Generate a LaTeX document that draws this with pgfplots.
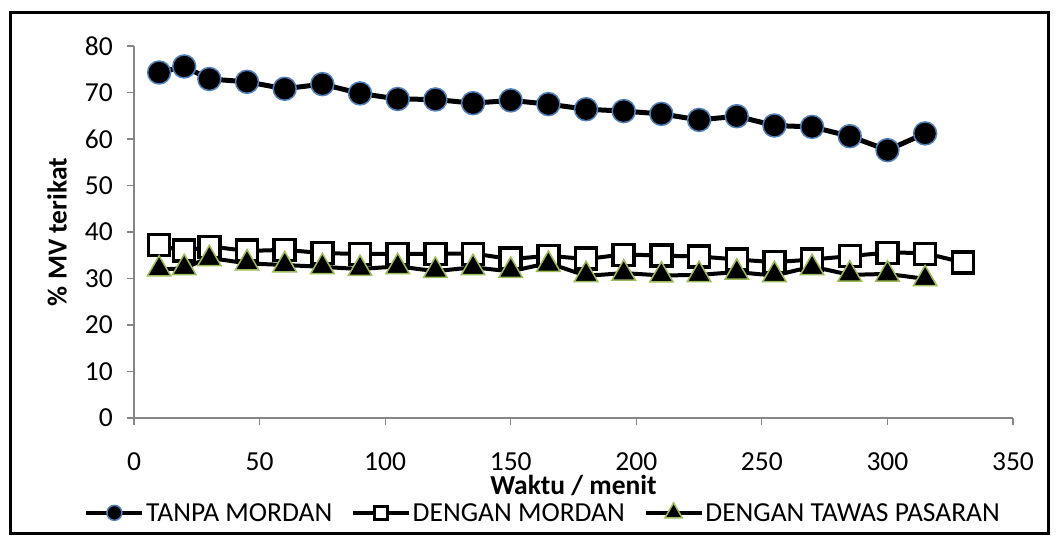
\documentclass[border=0pt]{standalone}
\usepackage{fontspec}
\setmainfont{Carlito}
\usepackage{pgfplots}
\pgfplotsset{compat=1.18}
\definecolor{axgray}{HTML}{868686}
\definecolor{mblue}{HTML}{4F81BD}
\definecolor{mgreen}{HTML}{9BBB59}
\begin{document}
\begin{tikzpicture}[x=1bp,y=1bp]
\useasboundingbox (0,0) rectangle (1056,536);
\draw[line width=3bp] (10,2) rectangle (1048,523);
\begin{axis}[
  at={(134bp,118bp)}, anchor=south west,
  scale only axis, width=879bp, height=372bp,
  xmin=0, xmax=350, ymin=0, ymax=80,
  xtick={0,50,...,350}, ytick={0,10,...,80},
  axis x line*=bottom, axis y line*=left,
  axis line style={draw=axgray, line width=1.5bp},
  tick style={draw=axgray, line width=1.2bp},
  tick align=outside, major tick length=7bp,
  /pgf/number format/assume math mode=true,
  ticklabel style={font=\fontsize{27.5bp}{32bp}\selectfont, inner sep=0pt},
  xticklabel style={anchor=north, yshift=-27bp},
  yticklabel style={anchor=east, xshift=-14bp},
  every axis x label/.style={at={(axis description cs:0.5,0)}, anchor=base, yshift=-77bp},
  every axis y label/.style={at={(axis description cs:0,0.5)}, xshift=-77bp, rotate=90, anchor=center},
  label style={font=\fontsize{27.5bp}{32bp}\selectfont\bfseries},
  xlabel={Waktu / menit},
  ylabel={\% MV terikat},
  legend style={at={(axis description cs:0.465,-0.255)}, anchor=center, draw=none, fill=none,
    font=\fontsize{27.5bp}{32bp}\selectfont, legend columns=3,
    nodes={inner sep=1.5bp},
    /tikz/every even column/.append style={column sep=17bp}},
  legend image code/.code={
    \draw[mark repeat=2, mark phase=2, line width=4.5bp]
      plot coordinates {(0bp,0bp) (28bp,0bp) (56bp,0bp)};
  },
]
\addplot[black, line width=5bp, mark=*, mark size=11.5bp,
  mark options={fill=black, draw=mblue, line width=1.5bp},
  legend image post style={mark size=7.5bp}] table {
x y
10 74.3
20 75.6
30 72.9
45 72.3
60 70.8
75 71.8
90 69.8
105 68.6
120 68.5
135 67.7
150 68.3
165 67.5
180 66.4
195 66.0
210 65.4
225 64.1
240 64.9
255 62.9
270 62.6
285 60.6
300 57.6
315 61.2
};
\addlegendentry{TANPA MORDAN}
\addplot[black, line width=4bp, smooth, tension=0.5, mark=square*, mark size=10.5bp,
  mark options={fill=white, draw=black, line width=3.5bp},
  legend image post style={mark size=6.5bp, mark options={fill=white, draw=black, line width=3bp}}] table {
x y
10 37.2
20 36.0
30 36.8
45 36.0
60 36.1
75 35.5
90 35.3
105 35.3
120 35.3
135 35.3
150 34.3
165 34.8
180 34.3
195 35.1
210 34.9
225 34.7
240 34.1
255 33.6
270 34.1
285 34.8
300 35.5
315 35.3
330 33.4
};
\addlegendentry{DENGAN MORDAN}
\addplot[black, line width=4bp, smooth, tension=0.5, mark=triangle*, mark size=13.5bp,
  mark options={fill=black, draw=mgreen, line width=1.5bp},
  legend image post style={mark size=10bp}] table {
x y
10 32.0
20 32.3
30 34.2
45 33.3
60 32.9
75 32.5
90 32.1
105 32.5
120 31.7
135 32.3
150 31.7
165 33.0
180 30.8
195 31.1
210 30.7
225 30.8
240 31.3
255 30.8
270 32.3
285 30.9
300 30.9
315 29.9
};
\addlegendentry{DENGAN TAWAS PASARAN}
\end{axis}
\end{tikzpicture}
\end{document}
